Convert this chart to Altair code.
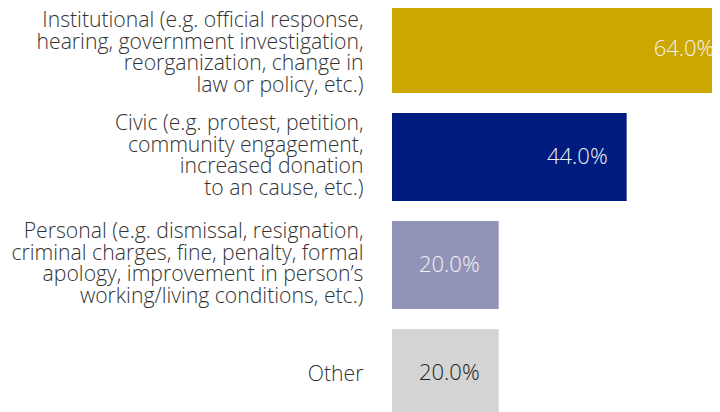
import altair as alt
import pandas as pd

categories = [
    "Institutional (e.g. official response,\nhearing, government investigation,\nreorganization, change in\nlaw or policy, etc.)",
    "Civic (e.g. protest, petition,\ncommunity engagement,\nincreased donation\nto an cause, etc.)",
    "Personal (e.g. dismissal, resignation,\ncriminal charges, fine, penalty, formal\napology, improvement in person\u2019s\nworking/living conditions, etc.)",
    "Other",
]
values = [64.0, 44.0, 20.0, 20.0]
bar_colors = ["#CCA700", "#001C80", "#9194B8", "#D4D4D4"]

df = pd.DataFrame({"category": categories, "value": values})

label_offset = {
    "condition": [
        {"test": "datum.value == 'Other'", "value": 2},
        {"test": "indexof(datum.value, 'Institutional') == 0", "value": -28},
    ],
    "value": -33,
}

y_enc = alt.Y(
    "category:N",
    sort=categories,
    scale=alt.Scale(range=[-3, 409], paddingInner=20 / 108, paddingOuter=0),
    axis=alt.Axis(
        title=None, domain=False, ticks=False, grid=False,
        labelPadding=29, labelFontSize=21.2, labelFont="Open Sans",
        labelFontWeight=300, labelColor="#333333", labelLimit=0,
        labelExpr="split(datum.label, '\\n')", labelLineHeight=21.5,
        labelAlign="right", labelBaseline="middle",
        labelOffset=label_offset,
    ),
)
x_enc = alt.X("value:Q", axis=None, scale=alt.Scale(domain=[0, 60], nice=False))

bars = alt.Chart(df).mark_bar().encode(
    y=y_enc,
    x=x_enc,
    color=alt.Color("category:N", scale=alt.Scale(domain=categories, range=bar_colors), legend=None),
)

labels = alt.Chart(df).transform_calculate(
    txt="format(datum.value, '.1f') + '%'"
).mark_text(
    align="right", baseline="middle", dx=-19, fontSize=22, font="Open Sans", fontWeight=300
).encode(
    y=alt.Y("category:N", sort=categories),
    x=alt.X("value:Q"),
    text="txt:N",
    color=alt.condition(alt.datum.category == "Other", alt.value("#222222"), alt.value("#f2f2f2")),
)

chart = alt.layer(bars, labels).properties(
    width=320, height=404,
    autosize=alt.AutoSizeParams(type="none"),
    padding={"left": 384, "top": 0, "right": 0, "bottom": 0},
).configure_view(stroke=None)

chart.save("out.html", embed_options={"renderer": "svg", "actions": False})
